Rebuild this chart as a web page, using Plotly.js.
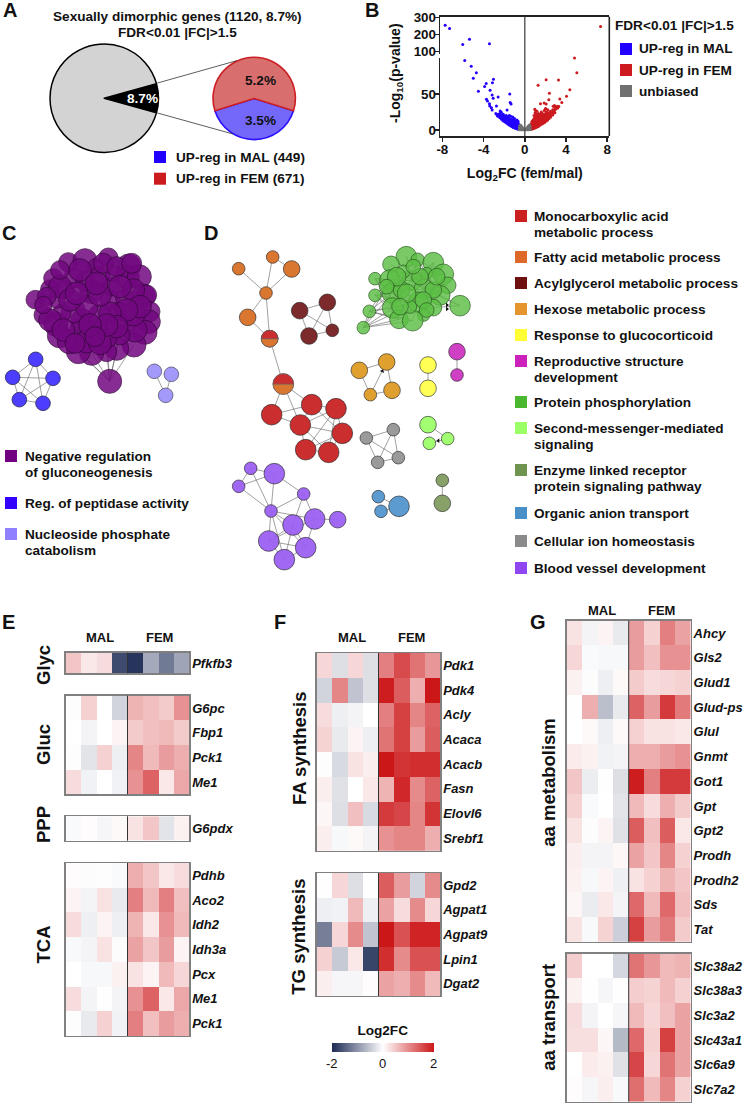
<!DOCTYPE html>
<html><head><meta charset="utf-8">
<script src="https://cdn.plot.ly/plotly-3.0.1.min.js"></script>
<style>html,body{margin:0;padding:0;background:#fff}#chart{width:744px;height:1104px}</style>
</head><body><div id="chart"></div>
<script>
// ---------- Panel A data ----------
const pieAllValues = [8.7, 91.3];
const pieSubValues = [3.5, 5.2];
// ---------- Panel B data (Log2FC, -Log10 p) ----------
const volBlueX = [-7.73,-7.3,-5.37,-6.02,-3.43,-5.83,-5.2,-4.7,-5.0,-4.5,-3.9,-3.75,-3.04,-3.14,-3.37,-3.17,-3.07,-3.72,-3.62,-2.59,-1.46,-1.42,-1.33,-3.43,-3.4,-3.24,-2.75,-1.72,-3.17,-2.39,-2.46,-2.59,-2.28,-2.1,
 -0.61,-0.58,-0.63,-0.6,-0.59,-0.72,-0.68,-0.7,-0.74,-0.69,-0.71,-0.82,-0.78,-0.8,-0.83,-0.79,-0.81,-0.77,-0.92,-0.88,-0.9,-0.93,-0.87,-0.91,-1.02,-0.98,-1.01,-0.97,-1.03,-0.99,-1.0,-1.12,-1.08,-1.1,-1.13,-1.09,-1.11,-1.22,-1.18,-1.2,-1.23,-1.19,-1.21,-1.17,-1.36,-1.32,-1.35,-1.38,-1.34,-1.37,-1.52,-1.48,-1.5,-1.53,-1.49,-1.51,-1.66,-1.63,-1.67,-1.64,-1.65,-1.82,-1.78,-1.81,-1.79,-1.8,-1.96,-1.93,-1.97,-1.94,-2.12,-2.08,-2.11,-2.09,-2.26,-2.23,-2.27,-2.42,-2.38,-2.41,-2.62,-2.58,-2.81,
 -0.65,-0.75,-0.85,-0.95,-1.05,-1.15,-1.25,-1.3,-1.42,-1.45,-1.58,-1.6,-1.72,-1.75,-1.88,-1.9,-2.02,-2.05,-2.18,-2.32,-2.35,-2.5,-2.7,-0.65,-0.75,-0.85,-0.95,-1.05,-1.15,-1.25,-1.3,-1.42,-1.58,-1.72,-1.88,-2.02,-0.55,-0.62,-0.66];
const volBlueY = [255,236,172,141,145,96.3,88.4,79.6,71.8,53.7,60.2,64.4,70.4,65.7,55.1,48.6,44,42.6,40.3,45.8,50,38,36,36.6,33.3,31,33.3,27.8,27.8,26.4,22.2,19,24.5,22,
 1,2,3,5,7,1.5,3,4.5,6,8,10,2,3.5,5,7,9,11,14,2.5,4,6,8,10,12,3,4.5,6.5,8.5,10.5,13,16,3.5,5.5,7.5,9.5,12,15,4.5,6,8,10,12.5,14,18,5.5,7.5,9.5,12,15,19,7,9,11,13,16,20,8.5,10.5,13,15.5,18,10,12,14,17,20,11.5,14,16,19,13,15,17.5,21,15,17,20,17,19,23,19.5,22,23,
 2,3,4,5,4.2,6.5,5.5,8.5,8,10,9.5,12,11,13.5,13,15,14,16,16,18,21,20,21,6,7,8,9,9,10.5,11.5,13.5,14.5,14.5,16.5,17.5,18,0.6,9,12];
const volRedX = [7.35,4.82,5.05,2.07,3.27,1.29,4.37,2.39,4.05,3.4,2.33,3.59,1.52,2.07,1.88,2.88,2.75,3.07,0.97,2.0,3.2,3.3,
 0.61,0.58,0.63,0.6,0.59,0.72,0.68,0.7,0.74,0.69,0.71,0.82,0.78,0.8,0.83,0.79,0.81,0.92,0.88,0.9,0.93,0.87,0.91,0.89,1.02,0.98,1.01,0.97,1.03,0.99,1.0,1.04,1.16,1.13,1.15,1.17,1.14,1.12,1.16,1.18,1.32,1.28,1.31,1.27,1.33,1.29,1.3,1.46,1.43,1.47,1.44,1.45,1.42,1.62,1.58,1.61,1.57,1.63,1.59,1.6,1.76,1.73,1.77,1.74,1.75,1.72,1.92,1.88,1.91,1.87,1.93,1.89,2.06,2.03,2.07,2.04,2.05,2.02,2.22,2.18,2.21,2.17,2.23,2.36,2.33,2.37,2.34,2.52,2.48,2.51,2.49,2.72,2.68,2.71,2.92,2.88,2.91,3.02,2.98,3.22,
 .65,.75,.85,.95,1.05,1.1,1.22,1.25,1.38,1.4,1.52,1.55,1.68,1.7,1.83,1.85,1.98,2.0,2.12,2.28,2.3,2.42,2.6,2.65,2.8,.65,.75,.85,.95,1.05,1.1,1.22,1.25,1.38,1.52,1.68,1.83,1.98,2.12,.55,1.08,1.35,1.55];
const volRedY = [247,100,79.6,69.9,69.4,62,56,50.9,46.8,43,42,38,36.6,36,37.5,34,33,32,28.7,29,30.5,32.5,
 1,2.5,4,6,8,1.5,3,5,7,10,12,2,4,6,8,11,14,2.5,4.5,6.5,9,12,16,20,3,5,7.5,10,13,17,24,27,4,6,8,11,14,18,22,26,5,7,9.5,12,15,19,23,6.5,8.5,11,14,17,20,8,10,12,15,18,21,25,9,11,13.5,16,19,23,10.5,12.5,15,18,21,27,12,14,17,20,24,30,14,16,19,22,28,16,18,20.5,24,18,21,23,26,21,24,28,24,27,31,29,33,33,
 2,3,4,5,4.5,7,6,9,8,10.5,9.5,13,11,14.5,12,16,14,18,16,18,22,20,22,25,24,6,8,9.5,11,11.5,13,15,17,16,18.5,20,20,22,25,.7,21,21,23];
const volGrayX = [-0.55,-0.52,-0.5,-0.48,-0.46,-0.44,-0.42,-0.4,-0.38,-0.36,-0.34,-0.31,-0.29,-0.26,-0.24,-0.21,-0.18,-0.15,-0.11,-0.07,-0.03,0,0.04,0.08,0.12,0.16,0.19,0.22,0.25,0.27,0.3,0.33,0.35,0.37,0.39,0.41,0.43,0.45,0.47,0.49,0.51,0.54];
const volGrayY = [0.5,4,1,6,2.6,7,0.7,4.5,2.2,5.8,0.5,3.6,1.6,4.2,0.4,2.4,1.2,1.9,0.6,0.7,0.2,0.05,0.2,0.6,1,1.6,0.8,2.6,0.5,3.8,1.6,5,0.4,3,6.2,1.8,4.6,0.7,7,2.8,5.2,0.6];
const volXTickVals = [-8,-4,0,4,8];
const volXTickText = ['-8','-4','0','4','8'];
// ---------- Panels C and D networks: node x, y, radius as read on 3x crops ----------
const cPurpleX = [106,130,168,178,150,160,205,255,288,325,386,382,418,430,440,450,445,435,402,350,320,275,235,208,245,248,220,300,300,330,275,255,195,220,300,335,375,355,370,405,400,360,320,185,170,340,329,
 180,240,310,350,400,420,380,330,260,210,140,150,190,260,300,350,320,270,230,300,360,290,180,130,225,285,395];
const cPurpleY = [269,315,343,377,237,205,157,152,170,143,168,202,200,258,255,305,335,367,405,415,425,430,425,395,360,333,303,318,360,270,245,215,238,205,200,230,265,305,345,360,312,375,385,310,270,190,514,
 230,180,160,170,240,290,300,310,290,270,260,330,360,395,400,350,345,345,250,255,230,220,180,285,400,380,160];
const cPurpleR = [28,28,36,36,28,29,29,36,25,29,36,36,36,36,30,30,36,36,36,36,30,36,36,36,36,36,36,36,28,30,36,30,28,30,30,28,28,28,36,36,36,30,30,28,25,25,36,
 34,34,30,30,34,34,34,34,34,34,28,34,34,34,34,34,34,34,34,34,34,34,28,26,30,30,30];
const cPurpleEdges = [[46,18],[46,19],[46,20],[46,21],[46,22],[46,41],[46,42],[46,23],[1,2],[0,2]];
const cBlueX = [107,38,159,58,129], cBlueY = [448,502,505,569,580], cBlueR = [22,22,22,22,22];
const cBlueEdges = [[0,1],[0,2],[0,3],[0,4],[1,2],[1,3],[1,4],[2,3],[2,4],[3,4]];
const cLilacX = [463,514,497], cLilacY = [484,493,556], cLilacR = [22,22,22];
const cLilacEdges = [[0,2],[1,2]];

const dOrangeX = [56,158,215,138,83,149], dOrangeY = [176,141,177,249,322,386], dOrangeR = [19,19,25,19,25,25];
const dOrangeEdges = [[0,3],[1,2],[1,3],[2,3],[3,4],[3,5],[4,5]];
const dDarkRedX = [239,322,267,337], dDarkRedY = [302,277,378,361], dDarkRedR = [25,25,25,19];
const dDarkRedEdges = [[0,1],[0,2],[0,3],[1,3],[1,2],[2,3]];
const dRedX = [190,155,275,348,241,367,257,326,149], dRedY = [522,614,584,596,645,670,719,727,386], dRedR = [31,31,31,31,31,31,31,31,25];
const dRedEdges = [[8,0],[0,1],[0,2],[0,4],[1,2],[1,4],[2,3],[2,4],[3,4],[3,5],[3,6],[3,7],[4,5],[4,6],[4,7],[5,6],[5,7],[6,7],[2,5]];
const dGreenX = [559,593,513,640,670,683,465,510,575,612,516,465,660,720,448,518,594,640,611,430,537,578,550,620,545,570,
 530,600,560,640,610,540,500,580,650,620];
const dGreenY = [140,149,163,158,193,226,206,210,212,238,250,256,256,287,304,294,277,293,315,353,328,332,185,190,240,290,
 200,200,250,240,270,290,230,170,200,300];
const dGreenR = [31,20,25,31,31,25,19,31,30,30,30,19,30,31,19,31,31,25,19,19,28,31,20,18,25,20,
 28,25,28,25,25,25,22,22,25,22];
const dGreenEdges = [[6,7],[6,10],[6,8],[11,7],[11,10],[11,15],[14,15],[14,10],[14,7],[14,20],[19,15],[19,20],[19,21],[19,7],[19,14],[8,9],[8,16],[8,3],[8,12],[7,16],[10,16],[9,12],[13,12],[13,17],[13,9],[4,8],[23,8],[22,9],[0,8],[1,8],[24,16],[25,9],[16,12],[3,9],[2,8],[5,9],[15,16],[20,16],[21,16],[18,16],[24,9],[24,8],[7,8],[6,15],[6,20],[11,20],[11,16],[14,16],[19,16],[14,21],[19,10],[8,23],[1,4],[1,12],[3,12],[23,4],[23,12],[0,9],[22,4],[22,12],[27,34],[27,29],[27,3],[27,4],[33,34],[33,12],[26,15],[26,10],[32,15],[32,20]];
const dAmberX = [418,500,516,451], dAmberY = [481,456,541,554], dAmberR = [25,25,25,19];
const dAmberEdges = [[0,1],[0,3],[3,1],[1,2],[3,2]];
const dYellowX = [624,624], dYellowY = [465,535], dYellowR = [25,25];
const dMagentaX = [711,711], dMagentaY = [425,495], dMagentaR = [25,19];
const dLimeX = [624,683,628], dLimeY = [644,686,700], dLimeR = [25,19,19];
const dLimeEdges = [[0,1],[1,2]];
const dGrayX = [439,520,535,473], dGrayY = [684,659,743,757], dGrayR = [19,19,19,19];
const dGrayEdges = [[0,1],[0,3],[0,2],[1,3],[1,2],[2,3]];
const dBlueX = [475,483,537], dBlueY = [860,904,889], dBlueR = [19,19,31];
const dBlueEdges = [[0,2],[1,2]];
const dOliveX = [667,667], dOliveY = [811,880], dOliveR = [19,25];
const dVioletX = [92,56,163,251,153,219,284,353,146,257,193], dVioletY = [775,829,791,852,903,945,927,929,993,1013,1049], dVioletR = [19,19,31,19,19,31,31,25,31,31,31];
const dVioletEdges = [[0,2],[0,1],[1,2],[1,4],[0,4],[2,4],[2,3],[4,3],[3,6],[3,5],[4,6],[4,5],[4,8],[4,10],[4,9],[6,7],[6,9],[6,8],[5,8],[5,9],[5,10],[8,10],[8,9],[10,9]];
const dArrowX = [487,655,681,681], dArrowY = [483,692,285,297], dArrowAngle = [25,-90,90,90];
// ---------- Panel legends ----------
const cLegendColors = ['#70007f','#3300ff','#8f80ff'];
const dLegendColors = ['#cc1f1f','#dd6a2a','#6e1010','#e5952b','#ffff33','#cc22bb','#49b82e','#9bff66','#6f9450','#4a90c8','#8a8a8a','#8f45f0'];
const dLegendRowsY = [216,257,283,309,335,361,402,428,470,513,541,568];
const dLegendLines = [['Monocarboxylic acid',216],['metabolic process',232],['Fatty acid metabolic process',257],['Acylglycerol metabolic process',283],['Hexose metabolic process',309],['Response to glucocorticoid',335],['Reproductive structure',361],['development',377],['Protein phosphorylation',402],['Second-messenger-mediated',428],['signaling',444],['Enzyme linked receptor',470],['protein signaling pathway',486],['Organic anion transport',513],['Cellular ion homeostasis',541],['Blood vessel development',568]];
// ---------- Heatmaps ----------
const sampleLabels = ['MAL1','MAL2','MAL3','MAL4','FEM1','FEM2','FEM3','FEM4'];
const glycGenes = ['Pfkfb3'];
const glycValues = [[.5,.2,.3,-1.7,-1.9,-.8,-1.25,-.85]];
const glucGenes = ['G6pc','Fbp1','Pck1','Me1'];
const glucValues = [[.02,.4,0,-.4,.65,.55,.45,.95],[0,-.1,0,.1,.45,.55,.6,.45],[.02,-.25,.4,-.15,1.05,.6,.85,.7],[.3,-.12,0,-.12,.95,1.35,.2,.75]];
const pppGenes = ['G6pdx'];
const pppValues = [[-.05,.03,-.08,.05,.25,.5,-.25,.12]];
const tcaGenes = ['Pdhb','Aco2','Idh2','Idh3a','Pcx','Me1','Pck1'];
const tcaValues = [[.03,-.03,.02,-.05,.7,.5,.2,.3],[.1,-.1,.25,-.2,1.1,.6,1.1,.55],[.3,-.15,.1,-.15,.65,.2,.95,.6],[-.06,-.1,.25,-.03,.8,.5,.85,.1],[0,-.07,-.07,.12,.25,.1,.6,.35],[.3,-.1,-.01,-.1,.95,1.35,.2,.75],[.02,-.2,.4,-.12,1.1,.55,.85,.7]];
const faGenes = ['Pdk1','Pdk4','Acly','Acaca','Acacb','Fasn','Elovl6','Srebf1'];
const faValues = [[.35,-.3,.35,-.3,1.1,1.55,1.2,.9],[-.4,1.05,-.55,-.3,1.95,1.4,.7,2],[.3,-.15,-.1,0,1.1,1.65,1.05,1.35],[.38,-.2,.1,-.15,1.2,1.65,.85,1.4],[-.02,-.35,.25,.15,2,1.75,1.8,1.8],[.15,-.28,0,.2,.65,1.85,1,1.35],[.08,-.3,.55,-.35,1.7,1.6,1.05,1.75],[.15,-.07,.05,-.1,.95,1.05,1.05,.7]];
const tgGenes = ['Gpd2','Agpat1','Agpat9','Lpin1','Dgat2'];
const tgValues = [[.01,.35,-.3,-.01,1.4,.85,-.4,1],[-.15,-.12,.6,-.15,.8,.3,1,.35],[-1.2,.35,1,-.55,2,1.5,1.9,1.9],[.4,-.5,.2,-1.75,1.8,1,1.5,1.5],[.15,-.08,-.08,.03,.8,.7,1,.6]];
const aaGenes = ['Ahcy','Gls2','Glud1','Glud-ps','Glul','Gnmt','Got1','Gpt','Gpt2','Prodh','Prodh2','Sds','Tat'];
const aaValues = [[.25,-.1,.1,-.2,.85,.4,1.1,.8],[.35,-.05,-.07,-.07,.85,.55,.95,.95],[.12,-.03,-.15,.05,.45,.3,.35,.4],[.01,.7,-.6,-.2,1.35,.85,1.7,1.15],[0,.05,-.15,.05,.4,.25,.25,.2],[.17,.12,-.12,-.1,.7,.7,.85,.95],[.5,-.17,-.01,-.3,1.95,1.1,1.7,1.7],[.4,-.05,0,-.25,.6,.3,.7,.45],[.25,-.03,.1,-.28,1.4,.55,1.4,.2],[.15,-.1,-.1,.07,.8,.5,1.05,.4],[.12,-.07,.1,-.14,.25,.4,.65,.5],[.08,-.18,.2,-.1,1.3,.6,1.3,.55],[.25,-.06,.38,-.45,1.65,.85,1.15,.45]];
const transGenes = ['Slc38a2','Slc38a3','Slc3a2','Slc43a1','Slc6a9','Slc7a2'];
const transValues = [[.42,0,0,-.38,1.2,.9,.6,.65],[.12,-.01,-.08,-.01,.42,.38,.6,.4],[.3,-.1,0,-.08,.6,.35,.55,.8],[.28,.28,.08,-.65,1.3,.4,1.65,.8],[0,.17,.12,-.28,1.6,.35,1.2,.8],[.03,-.08,.15,-.06,1.25,.6,1.05,.4]];

// ---------- Layout helpers ----------
const W = 744, H = 1104, FONT = '"Liberation Sans", Arial, sans-serif';
const domX = (a,b) => [a/W, b/W];
const domY = (top,bot) => [1-bot/H, 1-top/H];
const traces = [], annotations = [], shapes = [];
const layout = {
  width:W, height:H, margin:{l:0,r:0,t:0,b:0,autoexpand:false}, paper_bgcolor:'#fff', plot_bgcolor:'rgba(0,0,0,0)',
  showlegend:false, hovermode:false, font:{family:FONT,color:'#111'},
  xaxis:{domain:[0,1],range:[0,W],visible:false,fixedrange:true},
  yaxis:{domain:[0,1],range:[H,0],visible:false,fixedrange:true},
  annotations, shapes
};
function T(x,y,text,o={}){ const a=o.anchor||'left'; annotations.push({x:a==='left'?x-2:x,y,xref:'x',yref:'y',text,showarrow:false,xanchor:a,yanchor:'middle',textangle:o.angle||0,
  font:{family:FONT,size:o.size||13.6,color:o.color||'#111',weight:o.weight===undefined?700:o.weight}}); }
function swatch(x,y,color,s=12){ shapes.push({type:'rect',xref:'x',yref:'y',x0:x,x1:x+s,y0:y-s/2,y1:y+s/2,fillcolor:color,line:{width:0},layer:'above'}); }

// ---------- Panel letters ----------
[['A',10,10],['B',372,10],['C',9,233],['D',211,233],['E',8,622],['F',280,622],['G',538,622]].forEach(p=>T(p[1],p[2],p[0],{size:20,anchor:'center'}));

// ---------- Panel A ----------
T(177,16,'Sexually dimorphic genes (1120, 8.7%)',{anchor:'center'});
T(177,32.7,'FDR<0.01 |FC|>1.5',{anchor:'center'});
traces.push({type:'pie',values:pieAllValues,sort:false,direction:'clockwise',rotation:74.34,textinfo:'none',
  domain:{x:domX(50,158.5),y:domY(44,152.5)},marker:{colors:['#000000','#d3d3d3'],line:{color:'#000',width:1.5}},hoverinfo:'skip'});
traces.push({type:'pie',values:pieSubValues,sort:false,direction:'clockwise',rotation:107.6,textinfo:'none',
  domain:{x:domX(213,295.4),y:domY(57.2,139.6)},marker:{colors:['#7468fb','#d86e6e'],line:{color:['#2a10ff','#cc1f24'],width:1.6}},hoverinfo:'skip'});
[[157.5,83,236.7,60.7],[157.5,113,233,134]].forEach(l=>shapes.push({type:'line',xref:'x',yref:'y',x0:l[0],y0:l[1],x1:l[2],y1:l[3],line:{color:'#333',width:.8}}));
T(142,98.7,'8.7%',{anchor:'center',color:'#fff'});
T(260,80,'5.2%',{anchor:'center'});
T(260,120.7,'3.5%',{anchor:'center'});
swatch(154,157,'#2200ff'); swatch(154,178.7,'#cc1a1e');
T(175.7,157.3,'UP-reg in MAL (449)'); T(175.7,178.7,'UP-reg in FEM (671)');

// ---------- Panel B ----------
function axisBase(){ return {showgrid:false,zeroline:false,fixedrange:true}; }
const volTickFont = {family:FONT,size:13.4,weight:700,color:'#111'};
layout.xaxis2 = Object.assign(axisBase(),{domain:domX(440.3,609.3),range:[-8.2,8.2],anchor:'y2',showline:true,linecolor:'#222',linewidth:1.6,ticks:'outside',ticklen:4,tickwidth:1.5,tickcolor:'#222',ticklabelstandoff:-4,
  tickvals:volXTickVals,ticktext:volXTickText,tickfont:volTickFont,
  title:{text:'Log<sub>2</sub>FC (fem/mal)',font:{family:FONT,size:14,weight:700,color:'#111'},standoff:12}});
layout.yaxis2 = Object.assign(axisBase(),{domain:domY(57.5,136),range:[-8.3,100.6],anchor:'x2',showline:true,linecolor:'#222',linewidth:1.6,ticks:'outside',ticklen:4,tickwidth:1.5,tickcolor:'#222',ticklabelstandoff:-4,
  tickvals:[0,50],tickfont:volTickFont});
layout.xaxis3 = Object.assign(axisBase(),{domain:domX(440.3,609.3),range:[-8.2,8.2],anchor:'y3',side:'top',showline:true,linecolor:'#222',linewidth:1.6,ticks:'',showticklabels:false});
layout.yaxis3 = Object.assign(axisBase(),{domain:domY(16.7,53.7),range:[87,305],anchor:'x3',showline:true,linecolor:'#222',linewidth:1.6,ticks:'outside',ticklen:4,tickwidth:1.5,tickcolor:'#222',ticklabelstandoff:-4,
  tickvals:[100,200,300],tickfont:volTickFont});
const mk = (c)=>({color:c,size:3,line:{width:0}});
[[volBlueX,volBlueY,'#2200ff'],[volRedX,volRedY,'#cc1a1e'],[volGrayX,volGrayY,'#707070']].forEach(s=>{
  traces.push({type:'scatter',mode:'markers',x:s[0],y:s[1],xaxis:'x2',yaxis:'y2',marker:mk(s[2]),cliponaxis:false,hoverinfo:'skip'});
  const ux=[],uy=[]; s[1].forEach((v,i)=>{ if(v>100){ux.push(s[0][i]);uy.push(v);} });
  traces.push({type:'scatter',mode:'markers',x:ux,y:uy,xaxis:'x3',yaxis:'y3',marker:mk(s[2]),hoverinfo:'skip'});
});
shapes.push({type:'line',xref:'x2',yref:'paper',x0:0,x1:0,y0:1-136/H,y1:1-16.7/H,line:{color:'#555',width:1.4}});
shapes.push({type:'line',xref:'x',yref:'y',x0:609.3,x1:609.3,y0:16.7,y1:136,line:{color:'#222',width:1.6}});
T(396,73,'-Log<sub>10</sub>(p-value)',{anchor:'center',angle:-90,size:14});
T(615,25,'FDR<0.01 |FC|>1.5');
swatch(620,49,'#2200ff'); swatch(620,70,'#cc1a1e'); swatch(620,91,'#707070');
T(638.7,48.5,'UP-reg in MAL'); T(638.7,70,'UP-reg in FEM'); T(638.7,91,'unbiased');

// ---------- Panels C, D ----------
function net(xs,ys,rs,edges,color,lineColor,ox,oy,op){
  const px=xs.map(v=>v/3+ox), py=ys.map(v=>v/3+oy);
  if(edges&&edges.length){ const ex=[],ey=[]; edges.forEach(e=>{ex.push(px[e[0]],px[e[1]],null);ey.push(py[e[0]],py[e[1]],null);});
    traces.push({type:'scatter',mode:'lines',x:ex,y:ey,xaxis:'x',yaxis:'y',line:{color:'rgba(110,110,110,.65)',width:1},hoverinfo:'skip'}); }
  traces.push({type:'scatter',mode:'markers',x:px,y:py,xaxis:'x',yaxis:'y',hoverinfo:'skip',
    marker:{color,size:rs.map(r=>r*2/3),opacity:op===undefined?1:op,line:{color:lineColor||'rgba(40,40,40,.8)',width:.8}}});
}
net(cPurpleX,cPurpleY,cPurpleR,cPurpleEdges,'#72087f','#2e0636',0,210,.85);
net(cBlueX,cBlueY,cBlueR,cBlueEdges,'#4c3dff','#2a2a55',0,210);
net(cLilacX,cLilacY,cLilacR,cLilacEdges,'#a399fb','#55556e',0,210);
const cLeg=[[456,cLegendColors[0]],[503,cLegendColors[1]],[534,cLegendColors[2]]];
cLeg.forEach(l=>swatch(5,l[0],l[1]));
T(25,456,'Negative regulation'); T(25,472,'of gluconeogenesis'); T(25,503,'Reg. of peptidase activity'); T(25,534,'Nucleoside phosphate'); T(25,550,'catabolism');

net(dOrangeX,dOrangeY,dOrangeR,dOrangeEdges,'#d9762f',null,220,210);
net(dDarkRedX,dDarkRedY,dDarkRedR,dDarkRedEdges,'#7c2a2c',null,220,210);
net(dRedX,dRedY,dRedR,dRedEdges,'#ca2e2f',null,220,210);
net(dGreenX,dGreenY,dGreenR,dGreenEdges,'rgba(92,190,68,.82)','rgba(40,80,30,.8)',220,210);
net(dAmberX,dAmberY,dAmberR,dAmberEdges,'#e0a030',null,220,210);
net(dYellowX,dYellowY,dYellowR,[[0,1]],'#ffff55',null,220,210);
net(dMagentaX,dMagentaY,dMagentaR,[[0,1]],'#d040c4',null,220,210);
net(dLimeX,dLimeY,dLimeR,dLimeEdges,'#a2ff72',null,220,210);
net(dGrayX,dGrayY,dGrayR,dGrayEdges,'#9a9a9a',null,220,210);
net(dBlueX,dBlueY,dBlueR,dBlueEdges,'#5c9bd0',null,220,210);
net(dOliveX,dOliveY,dOliveR,[[0,1]],'#87a168',null,220,210);
net(dVioletX,dVioletY,dVioletR,dVioletEdges,'rgba(155,96,242,.95)',null,220,210);
traces.push({type:'scatter',mode:'markers',x:dArrowX.map(v=>v/3+220),y:dArrowY.map(v=>v/3+210),xaxis:'x',yaxis:'y',hoverinfo:'skip',
  marker:{symbol:'triangle-up',size:4,color:'#111',angle:dArrowAngle,line:{width:0}}});
// two nodes shared between the orange and red modules
[[149,386,25],[190,522,31]].forEach(n=>{
  const cx=n[0]/3+220, cy=n[1]/3+210, r=n[2]/3;
  traces.push({type:'pie',values:[1,1],sort:false,direction:'clockwise',rotation:90,textinfo:'none',hoverinfo:'skip',
    domain:{x:domX(cx-r,cx+r),y:domY(cy-r,cy+r)},marker:{colors:['#d9762f','#ca2e2f'],line:{color:'#666',width:.6}}});
});
dLegendColors.forEach((c,i)=>swatch(515,dLegendRowsY[i],c));
dLegendLines.forEach(l=>T(534,l[1],l[0]));

// ---------- Heatmaps ----------
const colorscale = [[0,'#1c2a54'],[.5,'#ffffff'],[1,'#cc1719']];
let axN = 4;
function heat(genes,values,l,r,top,bot,extra){
  const n = axN++;
  layout['xaxis'+n] = Object.assign(axisBase(),{domain:domX(l,r),range:[-.5,7.5],anchor:'y'+n,showline:true,mirror:true,linecolor:'#808080',linewidth:1.3,ticks:'',showticklabels:false,type:'category',categoryarray:sampleLabels});
  layout['yaxis'+n] = Object.assign(axisBase(),{domain:domY(top,bot),autorange:'reversed',anchor:'x'+n,side:'right',showline:true,mirror:true,linecolor:'#808080',linewidth:1.3,ticks:'',type:'category',
    ticklabelstandoff:-1,tickfont:{family:FONT,size:13,weight:700,style:'italic',color:'#111'}});
  traces.push(Object.assign({type:'heatmap',x:sampleLabels,y:genes,z:values,xaxis:'x'+n,yaxis:'y'+n,zmin:-2,zmax:2,colorscale,showscale:false,hoverinfo:'skip'},extra||{}));
  shapes.push({type:'line',xref:'x'+n,yref:'paper',x0:3.5,x1:3.5,y0:1-bot/H,y1:1-top/H,line:{color:'#333',width:1}});
}
const colorBar = {showscale:true,colorbar:{orientation:'h',x:331.7/W,xanchor:'left',y:1-1066.5/H,yanchor:'bottom',lenmode:'pixels',len:102,thicknessmode:'pixels',thickness:8.5,
  xpad:0,ypad:0,outlinewidth:0,ticks:'',tickvals:[-2,0,2],ticktext:['-2','0','2'],tickfont:{family:FONT,size:13,color:'#111'},
  title:{text:'Log2FC',side:'top',font:{family:FONT,size:13.6,weight:700,color:'#111'}}}};
heat(glycGenes,glycValues,65.7,189.3,652.7,673.3);
heat(glucGenes,glucValues,65.7,189.3,695.7,794.3);
heat(pppGenes,pppValues,65.7,189.3,816.3,840.7);
heat(tcaGenes,tcaValues,65.7,189.3,863,1036);
heat(faGenes,faValues,316.7,440.3,653,850.7);
heat(tgGenes,tgValues,316.7,440.3,873,996,colorBar);
heat(aaGenes,aaValues,566.7,690.7,620.7,942);
heat(transGenes,transValues,566.7,690.7,953.7,1101.7);

[[100,637.7,'MAL'],[159.3,637.7,'FEM'],[351.7,637.7,'MAL'],[411,637.7,'FEM'],[602.3,610.3,'MAL'],[661.7,610.3,'FEM']].forEach(h=>T(h[0],h[1],h[2],{anchor:'center',size:13}));
[[43,665,'Glyc'],[43,745,'Gluc'],[43,825,'PPP'],[43,944.5,'TCA'],[299,749,'FA synthesis'],[299,936.7,'TG synthesis'],[547.7,782,'aa metabolism'],[547.7,1017,'aa transport']].forEach(g=>T(g[0],g[1],g[2],{anchor:'center',angle:-90,size:18.5}));

Plotly.newPlot('chart',traces,layout,{displayModeBar:false,staticPlot:true});
</script></body></html>
